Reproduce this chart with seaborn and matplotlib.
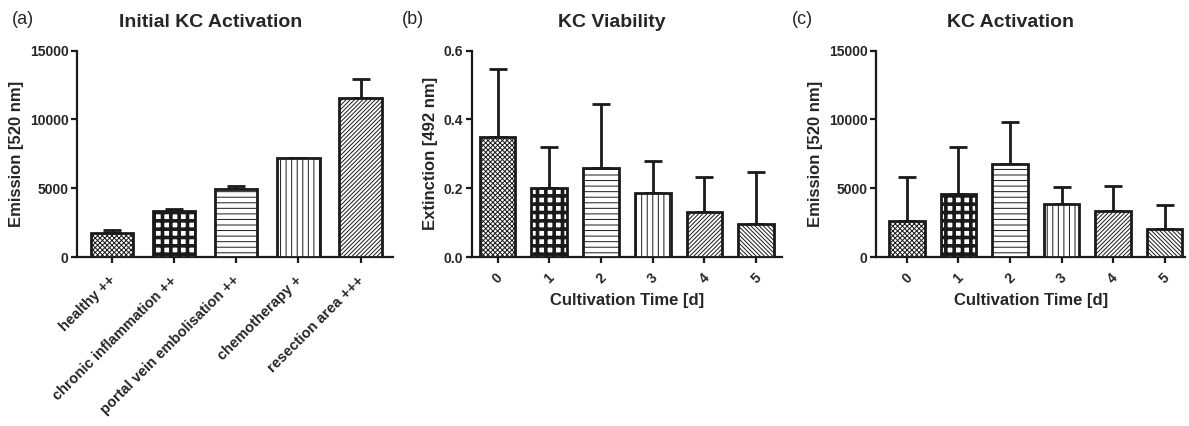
import numpy as np
import pandas as pd
import matplotlib
matplotlib.use("Agg")
import matplotlib.pyplot as plt
import matplotlib.transforms as mtransforms
import seaborn as sns

# ---- data ----
a_categories = ["healthy ++", "chronic inflammation ++", "portal vein embolisation ++",
                "chemotherapy +", "resection area +++"]
a_means = [1750, 3370, 4950, 7210, 11550]
a_err = [200, 130, 240, 0, 1390]

days = ["0", "1", "2", "3", "4", "5"]
b_means = [0.350, 0.201, 0.259, 0.185, 0.131, 0.096]
b_err = [0.197, 0.119, 0.185, 0.095, 0.102, 0.152]

c_means = [2650, 4545, 6735, 3865, 3378, 2065]
c_err = [3160, 3455, 3115, 1242, 1772, 1700]

a_hatches = ["xxxxxxx", "++", "---", "|||", "////////"]
bc_hatches = ["xxxxxxx", "++", "---", "|||", "////////", "\\" * 8]

sns.set_theme(style="ticks")
plt.rcParams["font.family"] = ["Liberation Sans", "DejaVu Sans"]
plt.rcParams["hatch.linewidth"] = 0.7
TXT = "#262626"

fig = plt.figure(figsize=(11.89, 4.26), dpi=100)
ax_a = fig.add_axes([0.0648, 0.3967, 0.2657, 0.4843])
ax_b = fig.add_axes([0.3967, 0.3967, 0.2610, 0.4843])
ax_c = fig.add_axes([0.7368, 0.3967, 0.2600, 0.4843])


def draw(ax, cats, means, errs, hatches, width, capsize):
    df = pd.DataFrame({"cat": cats, "val": means})
    sns.barplot(data=df, x="cat", y="val", ax=ax, color="white", edgecolor="#1a1a1a",
                linewidth=2.0, width=width, errorbar=None, zorder=3)
    for p, h in zip(ax.patches, hatches):
        p.set_hatch(h)
        if h.startswith("+") and hasattr(p, "set_hatch_linewidth"):
            p.set_hatch_linewidth(2.6)
    x = np.arange(len(cats))
    ax.errorbar(x, means, yerr=[np.zeros(len(errs)), errs], fmt="none",
                ecolor="#1a1a1a", elinewidth=2.0, capsize=capsize, capthick=2.0, zorder=2)
    for s in ["top", "right"]:
        ax.spines[s].set_visible(False)
    for s in ["left", "bottom"]:
        ax.spines[s].set_linewidth(1.6)
        ax.spines[s].set_color("#1a1a1a")
    ax.tick_params(axis="both", width=1.6, length=4, pad=2, color="#1a1a1a",
                   labelcolor=TXT, labelsize=10)
    ax.set_xlabel("")


LBL = dict(fontweight="bold", fontsize=12, color=TXT)
TTL = dict(fontweight="bold", fontsize=14, color=TXT, pad=17)

draw(ax_a, a_categories, a_means, a_err, a_hatches, 0.68, 6.8)
ax_a.set_ylim(0, 15000)
ax_a.set_yticks([0, 5000, 10000, 15000])
ax_a.set_yticklabels(["0", "5000", "10000", "15000"], fontweight="bold")
ax_a.set_xlim(-0.56, 4.52)
ax_a.set_xticks(range(5))
ax_a.set_xticklabels(a_categories, rotation=45, ha="right", rotation_mode="anchor",
                     fontweight="bold", fontsize=10.5, color=TXT)
off = mtransforms.ScaledTranslation(-4 / 100, -8 / 100, fig.dpi_scale_trans)
for lab in ax_a.get_xticklabels():
    lab.set_transform(lab.get_transform() + off)
ax_a.set_ylabel("Emission [520 nm]", **LBL)
ax_a.set_title("Initial KC Activation", x=0.424, **TTL)

draw(ax_b, days, b_means, b_err, bc_hatches, 0.69, 6.8)
ax_b.set_ylim(0, 0.6)
ax_b.set_yticks([0, 0.2, 0.4, 0.6])
ax_b.set_yticklabels(["0.0", "0.2", "0.4", "0.6"], fontweight="bold")
ax_b.set_xlim(-0.5, 5.5)
ax_b.set_xticks(range(6))
ax_b.set_xticklabels(days, rotation=45, fontweight="bold", fontsize=10, color=TXT)
ax_b.tick_params(axis="x", pad=6)
ax_b.set_xlabel("Cultivation Time [d]", labelpad=5, **LBL)
ax_b.set_ylabel("Extinction [492 nm]", **LBL)
ax_b.set_title("KC Viability", x=0.452, **TTL)

draw(ax_c, days, c_means, c_err, bc_hatches, 0.69, 6.8)
ax_c.set_ylim(0, 15000)
ax_c.set_yticks([0, 5000, 10000, 15000])
ax_c.set_yticklabels(["0", "5000", "10000", "15000"], fontweight="bold")
ax_c.set_xlim(-0.6, 5.4)
ax_c.set_xticks(range(6))
ax_c.set_xticklabels(days, rotation=45, fontweight="bold", fontsize=10, color=TXT)
ax_c.tick_params(axis="x", pad=6)
ax_c.set_xlabel("Cultivation Time [d]", labelpad=5, **LBL)
ax_c.set_ylabel("Emission [520 nm]", **LBL)
ax_c.set_title("KC Activation", x=0.436, **TTL)

fig.text(12 / 1189, 1 - 20 / 426, "(a)", fontsize=13, color=TXT, va="center")
fig.text(402 / 1189, 1 - 20 / 426, "(b)", fontsize=13, color=TXT, va="center")
fig.text(792 / 1189, 1 - 20 / 426, "(c)", fontsize=13, color=TXT, va="center")

fig.savefig("out.png", dpi=100)
